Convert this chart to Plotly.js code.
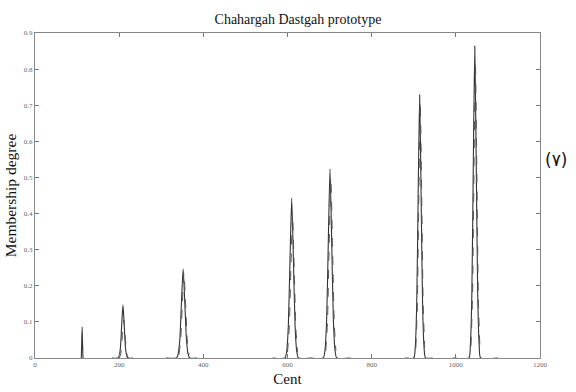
<!DOCTYPE html>
<html>
<head>
<meta charset="utf-8">
<script src="https://cdn.plot.ly/plotly-3.0.1.min.js"></script>
<style>html,body{margin:0;padding:0;background:#fff;}#chart{width:576px;height:392px;}</style>
</head>
<body>
<div id="chart"></div>
<script>
// Series A (taller curve of each pitch), cents vs membership degree
const centsA = [110,111,112,113,114, null,
  183,197,200,203,206,209,212,215,218,221,233, null,
  311,336,340,344,348,352,356,360,364,368,385, null,
  565,594,598,602,606,610,614,618,622,626,655, null,
  655,685,689,693,697,701,705,709,713,717,750, null,
  879,900,903.5,907,910.5,914,917.5,921,924.5,928,945, null,
  993,1031,1034.5,1038,1041.5,1045,1048.5,1052,1055.5,1059,1100];
const degreeA = [0,0.04,0.086,0.04,0, null,
  0,0,0.006,0.029,0.091,0.147,0.091,0.029,0.006,0,0, null,
  0,0,0.01,0.049,0.153,0.247,0.153,0.049,0.01,0,0, null,
  0,0,0.018,0.089,0.275,0.443,0.275,0.089,0.018,0,0, null,
  0,0,0.021,0.105,0.325,0.524,0.325,0.105,0.021,0,0, null,
  0,0,0.029,0.146,0.452,0.729,0.452,0.146,0.029,0,0, null,
  0,0,0.035,0.173,0.536,0.864,0.536,0.173,0.035,0,0];
// Series B (lower curve of each pitch)
const centsB = [199,202,205,208,211,214,217,220,223, null,
  342,346,350,354,358,362,366, null,
  600,604,608,612,616,620,624, null,
  691,695,699,703,707,711,715, null,
  905,908.5,912,915.5,919,922.5,926, null,
  1036,1039.5,1043,1046.5,1050,1053.5,1057];
const degreeB = [0,0.004,0.021,0.065,0.105,0.065,0.021,0.004,0, null,
  0.009,0.047,0.146,0.235,0.146,0.047,0.009, null,
  0.016,0.079,0.246,0.396,0.246,0.079,0.016, null,
  0.02,0.1,0.31,0.5,0.31,0.1,0.02, null,
  0.028,0.142,0.44,0.71,0.44,0.142,0.028, null,
  0.033,0.164,0.508,0.82,0.508,0.164,0.033];
const xTicks = [0,200,400,600,800,1000,1200];
const xTickLabels = ['0','200','400','600','800','1000','1200'];
const yTicks = [0,0.1,0.2,0.3,0.4,0.5,0.6,0.7,0.8,0.9];
const yTickLabels = ['0','0.1','0.2','0.3','0.4','0.5','0.6','0.7','0.8','0.9'];

const traces = [
  {x: centsA, y: degreeA, type: 'scatter', mode: 'lines', connectgaps: false,
   line: {color: '#333', width: 1.1, shape: 'spline', smoothing: 0.6}, showlegend: false, hoverinfo: 'skip'},
  {x: centsB, y: degreeB, type: 'scatter', mode: 'lines', connectgaps: false,
   line: {color: '#555', width: 1, dash: 'dash', shape: 'spline', smoothing: 0.6}, showlegend: false, hoverinfo: 'skip'}
];

const tickFont = {family: 'Liberation Serif, serif', size: 7, color: '#666'};
const layout = {
  width: 576, height: 392,
  margin: {l: 35, r: 36, t: 33, b: 34},
  paper_bgcolor: '#fff', plot_bgcolor: '#fff',
  title: {text: 'Chahargah Dastgah prototype', x: 300/576, xref: 'paper', xanchor: 'center',
          y: 1 - 19/392, yanchor: 'middle',
          font: {family: 'Liberation Serif, serif', size: 14, color: '#111'}},
  xaxis: {range: [0, 1200], tickvals: xTicks, ticktext: xTickLabels,
          ticks: 'inside', ticklen: 4, tickcolor: '#777', mirror: 'ticks',
          showline: true, linecolor: '#888', linewidth: 1, showgrid: false, zeroline: false,
          tickfont: tickFont,
          title: {text: 'Cent', standoff: 5, font: {family: 'Liberation Serif, serif', size: 15, color: '#111'}}},
  yaxis: {range: [0, 0.9], tickvals: yTicks, ticktext: yTickLabels,
          ticks: 'inside', ticklen: 4, tickcolor: '#777', mirror: 'ticks',
          showline: true, linecolor: '#888', linewidth: 1, showgrid: false, zeroline: false,
          tickfont: tickFont,
          title: {text: 'Membership degree', standoff: 3, font: {family: 'Liberation Serif, serif', size: 15.5, color: '#111'}}},
  annotations: [
    {text: '(۷)', xref: 'paper', yref: 'paper', x: (556-35)/505, y: (358-160)/325,
     xanchor: 'center', yanchor: 'middle', showarrow: false,
     font: {family: 'DejaVu Sans ExtraLight, DejaVu Sans, sans-serif', size: 17, color: '#111'}}
  ]
};
Plotly.newPlot('chart', traces, layout, {staticPlot: true, displayModeBar: false});
</script>
</body>
</html>
